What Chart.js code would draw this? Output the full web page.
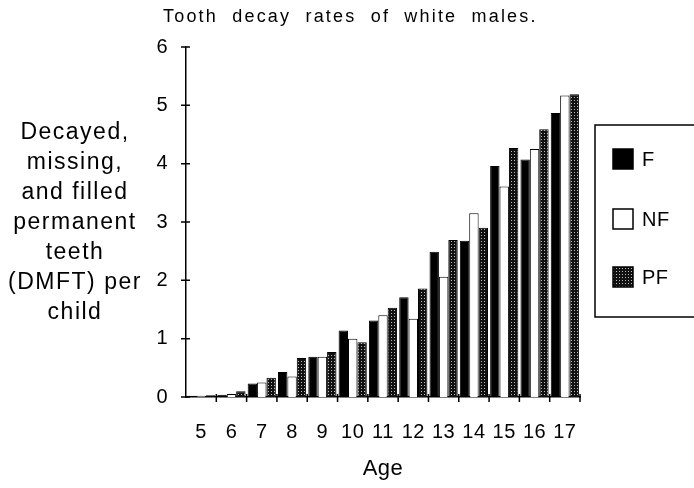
<!DOCTYPE html>
<html lang="en">
<head>
<meta charset="UTF-8">
<title>Tooth decay rates of white males</title>
<script src="https://cdn.jsdelivr.net/npm/chart.js"></script>
<style>
    body { margin: 0; background: #fff; }
    #wrap { width: 694px; height: 488px; }
</style>
</head>
<body>
<div id="wrap"><canvas id="decayChart" width="694" height="488"></canvas></div>
<script>
// values (DMFT per child)
const ages = ['5', '6', '7', '8', '9', '10', '11', '12', '13', '14', '15', '16', '17'];
const fValues  = [0.02, 0.04, 0.23, 0.43, 0.69, 1.14, 1.31, 1.71, 2.49, 2.68, 3.96, 4.07, 4.87];
const nfValues = [0.02, 0.05, 0.25, 0.35, 0.69, 1.00, 1.40, 1.34, 2.06, 3.15, 3.61, 4.25, 5.17];
const pfValues = [0.03, 0.10, 0.33, 0.67, 0.77, 0.94, 1.53, 1.86, 2.69, 2.90, 4.27, 4.59, 5.19];
const seriesNames = ['F', 'NF', 'PF'];
const yMax = 6;
const titleText = 'Tooth decay rates of white males.';
const yTitleLines = ['Decayed,', 'missing,', 'and filled', 'permanent', 'teeth', '(DMFT) per', 'child'];

const FONT = '"Liberation Sans", Arial, sans-serif';
const canvas = document.getElementById('decayChart');
const ctx = canvas.getContext('2d');

// dark stipple used for the PF bars
function stipple() {
    const c = document.createElement('canvas');
    c.width = 3; c.height = 3;
    const g = c.getContext('2d');
    g.fillStyle = '#111';
    g.fillRect(0, 0, 3, 3);
    g.fillStyle = '#bbb';
    g.fillRect(1, 1, 1, 1);
    return ctx.createPattern(c, 'repeat');
}

const fills = ['#000', '#fff', stipple()];

// text, crossing ticks and the boxed legend
const decorations = {
    id: 'decorations',
    beforeDraw(chart) {
        chart.ctx.letterSpacing = '0.5px';
    },
    afterDraw(chart) {
        const c = chart.ctx;
        const x = chart.scales.x, y = chart.scales.y;
        c.save();
        c.strokeStyle = '#000';
        c.lineWidth = 1.5;
        c.beginPath();
        y.ticks.forEach(t => {
            const py = y.getPixelForValue(t.value);
            c.moveTo(x.left - 5, py);
            c.lineTo(x.left + 4, py);
        });
        const step = x.width / ages.length;
        for (let i = 1; i <= ages.length; i++) {
            const px = x.left + i * step;
            c.moveTo(px, y.bottom - 3);
            c.lineTo(px, y.bottom + 5);
        }
        c.stroke();

        c.fillStyle = '#000';
        c.textBaseline = 'middle';
        c.textAlign = 'left';
        c.letterSpacing = '2.2px';
        c.wordSpacing = '7px';
        c.font = '18px ' + FONT;
        c.fillText(titleText, 163, 17);
        c.wordSpacing = '0px';

        c.textAlign = 'center';
        c.letterSpacing = '1.5px';
        c.font = '23px ' + FONT;
        yTitleLines.forEach((line, i) => c.fillText(line, 75, 133 + i * 30));

        // legend
        c.strokeRect(595, 125, 110, 192);
        const rows = [159, 219, 277];
        c.letterSpacing = '0.5px';
        c.font = '20px ' + FONT;
        chart.data.datasets.forEach((ds, i) => {
            c.fillStyle = ds.backgroundColor;
            c.fillRect(613, rows[i] - 10, 20, 20);
            c.strokeStyle = '#000';
            c.lineWidth = 1.5;
            c.strokeRect(613, rows[i] - 10, 20, 20);
            c.fillStyle = '#000';
            c.textAlign = 'left';
            c.fillText(ds.label, 642, rows[i] + 1);
        });
        c.restore();
    }
};

const tickFont = { family: FONT, size: 20 };

new Chart(ctx, {
    type: 'bar',
    data: {
        labels: ages,
        datasets: [fValues, nfValues, pfValues].map((vals, i) => ({
            label: seriesNames[i],
            data: vals,
            backgroundColor: fills[i],
            borderColor: '#000',
            borderWidth: 1,
            barPercentage: 1.0,
            categoryPercentage: 0.93
        }))
    },
    options: {
        responsive: false,
        animation: false,
        layout: { padding: { top: 47, right: 114, bottom: 0, left: 0 } },
        plugins: {
            legend: { display: false },
            title: { display: false },
            tooltip: { enabled: false }
        },
        scales: {
            x: {
                grid: { display: false, drawTicks: false },
                border: { display: true, color: '#000', width: 1.5 },
                ticks: { color: '#000', font: tickFont, padding: 23, maxRotation: 0, autoSkip: false },
                title: { display: true, text: 'Age', color: '#000', font: { family: FONT, size: 22 }, padding: { top: 0, bottom: 6 } },
                afterFit(s) { s.height = 91; }
            },
            y: {
                min: 0,
                max: yMax,
                grid: { display: false, drawTicks: false },
                border: { display: true, color: '#000', width: 1.5 },
                ticks: { stepSize: 1, color: '#000', font: tickFont, padding: 18 },
                afterFit(s) { s.width = 186; }
            }
        }
    },
    plugins: [decorations]
});
</script>
</body>
</html>
